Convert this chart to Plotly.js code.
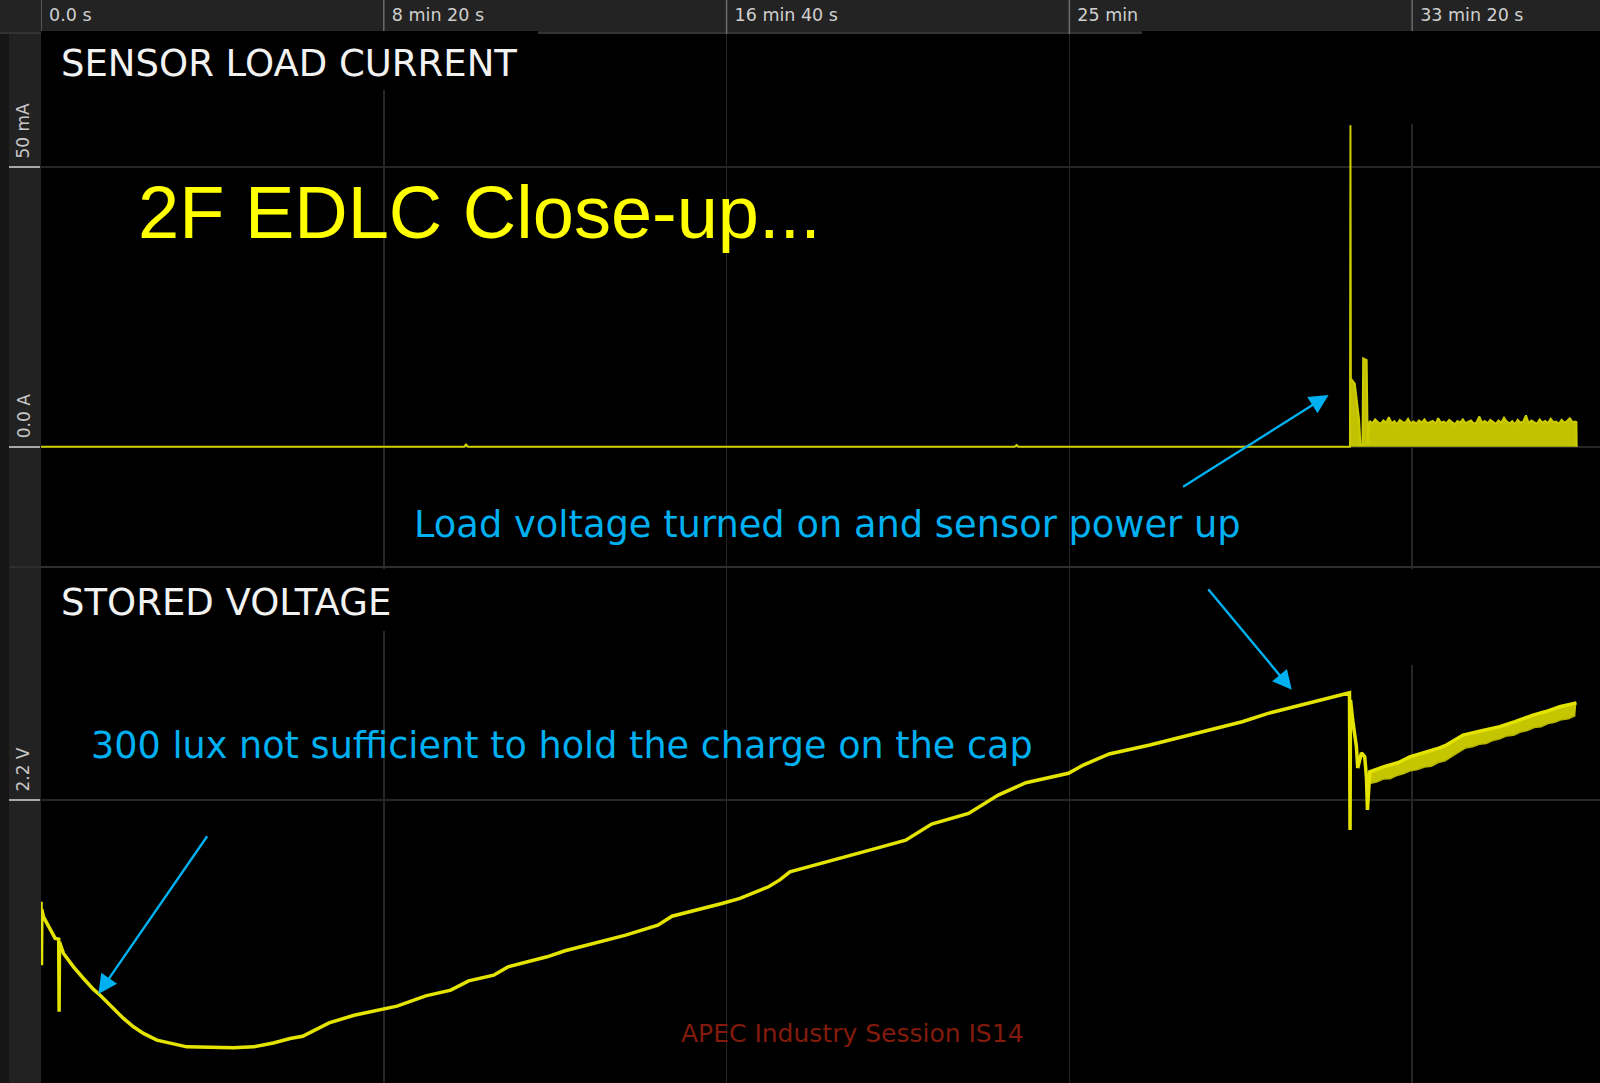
<!DOCTYPE html>
<html>
<head>
<meta charset="utf-8">
<script src="https://cdn.plot.ly/plotly-3.0.1.min.js"></script>
<style>
html,body{margin:0;padding:0;background:#161616;}
#chart{width:1600px;height:1083px;}
</style>
</head>
<body>
<div id="chart"></div>
<script>
// ---- X axis (seconds) ----
const xTickVals = [0, 500, 1000, 1500, 2000];
const xTickText = ['0.0 s', '8 min 20 s', '16 min 40 s', '25 min', '33 min 20 s'];

// ---- Sensor load current (mA) ----
const currentTime = [0, 617, 620, 623, 1420, 1423, 1426, 1909.3, 1910.0, 1910.6, 1916.3, 1918.8, 1922.6, 1924.6, 1927.6, 1928.6, 1933.6, 1935.2,
  1938, 1942, 1946, 1950, 1954, 1958, 1962, 1966, 1970, 1974, 1978, 1982, 1986, 1990, 1994, 1998, 2002, 2006, 2010, 2014,
  2018, 2022, 2026, 2030, 2034, 2038, 2042, 2046, 2050, 2054, 2058, 2062, 2066, 2070, 2074, 2078, 2082, 2086, 2090, 2094,
  2098, 2102, 2106, 2110, 2114, 2118, 2122, 2126, 2130, 2134, 2138, 2142, 2146, 2150, 2154, 2158, 2162, 2166, 2170, 2174,
  2178, 2182, 2186, 2190, 2194, 2198, 2202, 2206, 2210, 2214, 2218, 2222, 2226, 2230, 2234, 2238, 2239.6, 2240];
const currentMA = [0, 0, 0.4, 0, 0, 0.3, 0, 0, 57.5, 12.2, 11.3, 8.3, 4.8, 0.3, 0.3, 15.8, 15.5, 0.5,
  4.6, 4.2, 4.9, 4.4, 4.1, 4.7, 4.3, 5.3, 4.2, 4.6, 4.0, 4.8, 4.4, 4.3, 5.0, 4.2, 4.5, 4.1, 4.7, 4.3,
  4.9, 4.2, 4.4, 4.6, 4.1, 5.1, 4.3, 4.5, 4.2, 4.8, 4.4, 4.0, 4.6, 4.3, 4.9, 4.2, 4.5, 4.7, 4.1, 4.4,
  5.4, 4.3, 4.6, 4.2, 4.8, 4.4, 4.1, 4.7, 4.3, 5.2, 4.5, 4.2, 4.6, 4.0, 4.8, 4.3, 4.5, 5.6, 4.2, 4.7,
  4.4, 4.1, 4.9, 4.3, 4.6, 4.2, 5.0, 4.4, 4.5, 4.1, 4.8, 4.3, 4.6, 5.1, 4.4, 4.5, 4.4, 0];
const currentTickVals = [0, 50];
const currentTickText = ['0.0 A', '50 mA'];

// ---- Stored voltage (V) ----
const voltTime = [0, 0.7, 1.2, 3.6, 13.4, 20.7, 25.8, 26.4, 27.0, 32.8, 47.4, 62.0, 76.6, 86.3, 100.9, 120.3, 134.9, 149.5, 169.0, 193.2, 212.7,
  280.7, 309.9, 339.0, 363.4, 381.6, 420.2, 456.7, 519.4, 561.2, 597.7, 623.8, 660.3, 681.1, 738.1, 764.4, 852.9, 899.8, 920.4,
  993.3, 1019.6, 1061.3, 1077.6, 1092.4, 1175.0, 1218.1, 1261.3, 1299.1, 1353.0, 1396.2, 1436.6, 1498.7, 1520.3, 1558.1,
  1617.4, 1752.1, 1789.9, 1908.6, 1909.4, 1910.1, 1913.3, 1918.7, 1920.6, 1926.0, 1930.8, 1933.3, 1934.8, 1937.2];
const voltV = [2.1274, 2.0821, 2.1220, 2.1166, 2.1071, 2.1012, 2.1007, 2.0488, 2.0986, 2.0905, 2.0809, 2.0726, 2.0648, 2.0607, 2.0536, 2.0441, 2.0381, 2.0334, 2.0286, 2.0257, 2.0238,
  2.0231, 2.0238, 2.0266, 2.0298, 2.0314, 2.0409, 2.0464, 2.0529, 2.0602, 2.0643, 2.0709, 2.0750, 2.0809, 2.0881, 2.0924, 2.1036, 2.1107, 2.1171,
  2.1262, 2.1298, 2.1381, 2.1430, 2.1488, 2.1595, 2.1655, 2.1714, 2.1829, 2.1905, 2.2036, 2.2124, 2.2191, 2.2250, 2.2329,
  2.2393, 2.2559, 2.2619, 2.2766, 2.1786, 2.2714, 2.2571, 2.2381, 2.2229, 2.2336, 2.2309, 2.2166, 2.1929, 2.2179];
// noisy band after power-up: upper and lower envelope
const bandUpperTime = [1938.2, 1960, 1980, 1996.5, 2020, 2040, 2050, 2062, 2074.2, 2100, 2127.7, 2150, 2176.3, 2195, 2215.2, 2239.6];
const bandUpperV = [2.2202, 2.2240, 2.2268, 2.2309, 2.2342, 2.2372, 2.2393, 2.2428, 2.2464, 2.2494, 2.2524, 2.2560, 2.2607, 2.2632, 2.2666, 2.2694];
const bandLowerTime = [1938, 1948, 1958, 1968, 1978, 1988, 1998, 2008, 2018, 2028, 2038, 2048, 2058, 2068, 2078, 2088,
  2098, 2108, 2118, 2128, 2138, 2148, 2158, 2168, 2178, 2188, 2198, 2208, 2218, 2228, 2238];
const bandLowerV = [2.2119, 2.2128, 2.2150, 2.2152, 2.2176, 2.2190, 2.2210, 2.2218, 2.2236, 2.2242, 2.2268, 2.2280, 2.2312, 2.2340, 2.2372, 2.2380,
  2.2398, 2.2404, 2.2426, 2.2438, 2.2458, 2.2462, 2.2486, 2.2496, 2.2518, 2.2524, 2.2546, 2.2556, 2.2574, 2.2580, 2.2604];
const voltTickVals = [2.2];
const voltTickText = ['2.2 V'];

const W = 1600, H = 1083, ML = 41, MT = 34;
const PW = W - ML, PH = H - MT;
const px = X => (X - ML) / PW;          // page px -> paper x
const py = Y => (H - Y) / PH;           // page px -> paper y
const split = py(567);

const traces = [
  {x: currentTime, y: currentMA, xaxis: 'x', yaxis: 'y', mode: 'lines', fill: 'tozeroy',
   fillcolor: '#c2c200', line: {color: '#cccc00', width: 2}, hoverinfo: 'skip'},
  {x: bandLowerTime, y: bandLowerV, xaxis: 'x2', yaxis: 'y2', mode: 'lines',
   line: {color: '#b5b500', width: 1.5}, hoverinfo: 'skip'},
  {x: bandUpperTime, y: bandUpperV, xaxis: 'x2', yaxis: 'y2', mode: 'lines', fill: 'tonexty',
   fillcolor: '#c6c600', line: {color: '#c6c600', width: 0}, hoverinfo: 'skip'},
  {x: voltTime.concat(bandUpperTime), y: voltV.concat(bandUpperV), xaxis: 'x2', yaxis: 'y2', mode: 'lines',
   line: {color: '#e4e400', width: 3.5}, hoverinfo: 'skip'}
];

const gridCol = '#262626';
const labelFont = {family: 'DejaVu Sans, Verdana, sans-serif', size: 17, color: '#c8c8c8'};
const blue = '#00b0f0';

const yTickAnn = [];
currentTickVals.forEach((v, i) => yTickAnn.push({xref: 'paper', yref: 'y', x: px(23.5), y: v, text: currentTickText[i],
  textangle: -90, showarrow: false, xanchor: 'center', yanchor: 'bottom', yshift: 6, font: labelFont}));
voltTickVals.forEach((v, i) => yTickAnn.push({xref: 'paper', yref: 'y2', x: px(23.5), y: v, text: voltTickText[i],
  textangle: -90, showarrow: false, xanchor: 'center', yanchor: 'bottom', yshift: 6, font: labelFont}));

const arrow = (tipX, tipY, tailX, tailY) => ({xref: 'paper', yref: 'paper', x: px(tipX), y: py(tipY),
  ax: tailX - tipX, ay: tailY - tipY, text: '', showarrow: true, arrowhead: 2, arrowsize: 1.6,
  arrowwidth: 2.4, arrowcolor: blue});

const layout = {
  width: W, height: H,
  margin: {l: ML, r: 0, t: MT, b: 0, pad: 0},
  paper_bgcolor: '#161616', plot_bgcolor: '#000000',
  showlegend: false,
  xaxis: {domain: [0, 1], range: [0, 2274], anchor: 'y', side: 'top', tickvals: xTickVals, ticktext: xTickText,
    ticks: '', showline: false, zeroline: false, showgrid: true, gridcolor: gridCol, gridwidth: 1.5,
    ticklabelposition: 'outside right', ticklabelstandoff: 9, ticklabelshift: 8,
    tickfont: {family: 'DejaVu Sans, Verdana, sans-serif', size: 17.5, color: '#cfcfcf'}},
  xaxis2: {domain: [0, 1], matches: 'x', range: [0, 2274], anchor: 'y2', tickvals: xTickVals, showticklabels: false,
    ticks: '', showline: false, zeroline: false, showgrid: true, gridcolor: gridCol, gridwidth: 1.5},
  yaxis: {domain: [split, 1], range: [-21.5, 73.8], tickvals: currentTickVals, showticklabels: false,
    ticks: 'outside', ticklen: 31, tickwidth: 2, tickcolor: '#a8a8a8', showgrid: true, gridcolor: gridCol, gridwidth: 1.5,
    zeroline: false, showline: false},
  yaxis2: {domain: [0, split], range: [1.998, 2.3664], tickvals: voltTickVals, showticklabels: false,
    ticks: 'outside', ticklen: 31, tickwidth: 2, tickcolor: '#a8a8a8', showgrid: true, gridcolor: gridCol, gridwidth: 1.5,
    zeroline: false, showline: false},
  shapes: [
    // header band and left strip
    {type: 'rect', xref: 'paper', yref: 'paper', x0: px(0), x1: 1, y0: 1, y1: py(0), fillcolor: '#232323', line: {width: 0}, layer: 'below'},
    {type: 'rect', xref: 'paper', yref: 'paper', x0: px(9), x1: 0, y0: 0, y1: 1, fillcolor: '#222222', line: {width: 0}, layer: 'below'},
    {type: 'line', xref: 'paper', yref: 'paper', x0: px(0), x1: 1, y0: py(33), y1: py(33), line: {color: '#3a3a3a', width: 1.5}, layer: 'below'},
    // header separators at tick positions
    ...xTickVals.map(v => ({type: 'line', xref: 'x', yref: 'paper', x0: v, x1: v, y0: 1, y1: py(0),
      line: {color: '#6a6a6a', width: 1.5}, layer: 'above'})),
    // panel separator
    {type: 'line', xref: 'paper', yref: 'paper', x0: px(10), x1: 1, y0: split, y1: split, line: {color: '#2e2e2e', width: 2}, layer: 'above'},
    // black label boxes
    {type: 'rect', xref: 'paper', yref: 'paper', x0: 0, x1: px(538), y0: py(90), y1: py(31), fillcolor: '#000', line: {width: 0}, layer: 'above'},
    {type: 'rect', xref: 'paper', yref: 'paper', x0: px(1142), x1: 1, y0: py(124), y1: py(31), fillcolor: '#000', line: {width: 0}, layer: 'above'},
    {type: 'rect', xref: 'paper', yref: 'paper', x0: 0, x1: px(400), y0: py(631), y1: py(569), fillcolor: '#000', line: {width: 0}, layer: 'above'},
    {type: 'rect', xref: 'paper', yref: 'paper', x0: px(1142), x1: 1, y0: py(665), y1: py(569), fillcolor: '#000', line: {width: 0}, layer: 'above'}
  ],
  annotations: [
    ...yTickAnn,
    {xref: 'paper', yref: 'paper', x: px(59), y: py(63), xanchor: 'left', yanchor: 'middle', showarrow: false,
     text: 'SENSOR LOAD CURRENT', font: {family: 'DejaVu Sans, Verdana, sans-serif', size: 37, color: '#f2f2f2'}},
    {xref: 'paper', yref: 'paper', x: px(59), y: py(602), xanchor: 'left', yanchor: 'middle', showarrow: false,
     text: 'STORED VOLTAGE', font: {family: 'DejaVu Sans, Verdana, sans-serif', size: 37, color: '#f2f2f2'}},
    {xref: 'paper', yref: 'paper', x: px(136), y: py(213), xanchor: 'left', yanchor: 'middle', showarrow: false,
     text: '2F EDLC Close-up...', font: {family: 'Liberation Sans, Arial, sans-serif', size: 74, color: '#ffff00'}},
    {xref: 'paper', yref: 'paper', x: px(412), y: py(524), xanchor: 'left', yanchor: 'middle', showarrow: false,
     text: 'Load voltage turned on and sensor power up', font: {family: 'DejaVu Sans, Verdana, sans-serif', size: 36.8, color: blue}},
    {xref: 'paper', yref: 'paper', x: px(89), y: py(745), xanchor: 'left', yanchor: 'middle', showarrow: false,
     text: '300 lux not sufficient to hold the charge on the cap', font: {family: 'DejaVu Sans, Verdana, sans-serif', size: 36.6, color: blue}},
    {xref: 'paper', yref: 'paper', x: px(679), y: py(1033), xanchor: 'left', yanchor: 'middle', showarrow: false,
     text: 'APEC Industry Session IS14', font: {family: 'DejaVu Sans, Verdana, sans-serif', size: 25, color: '#821b0c'}},
    arrow(1328.6, 394.9, 1181.6, 487.8),
    arrow(1291.8, 689.8, 1207, 587.8),
    arrow(98.3, 994, 208.2, 834.7)
  ]
};

Plotly.newPlot('chart', traces, layout, {displayModeBar: false, staticPlot: true});
</script>
</body>
</html>
